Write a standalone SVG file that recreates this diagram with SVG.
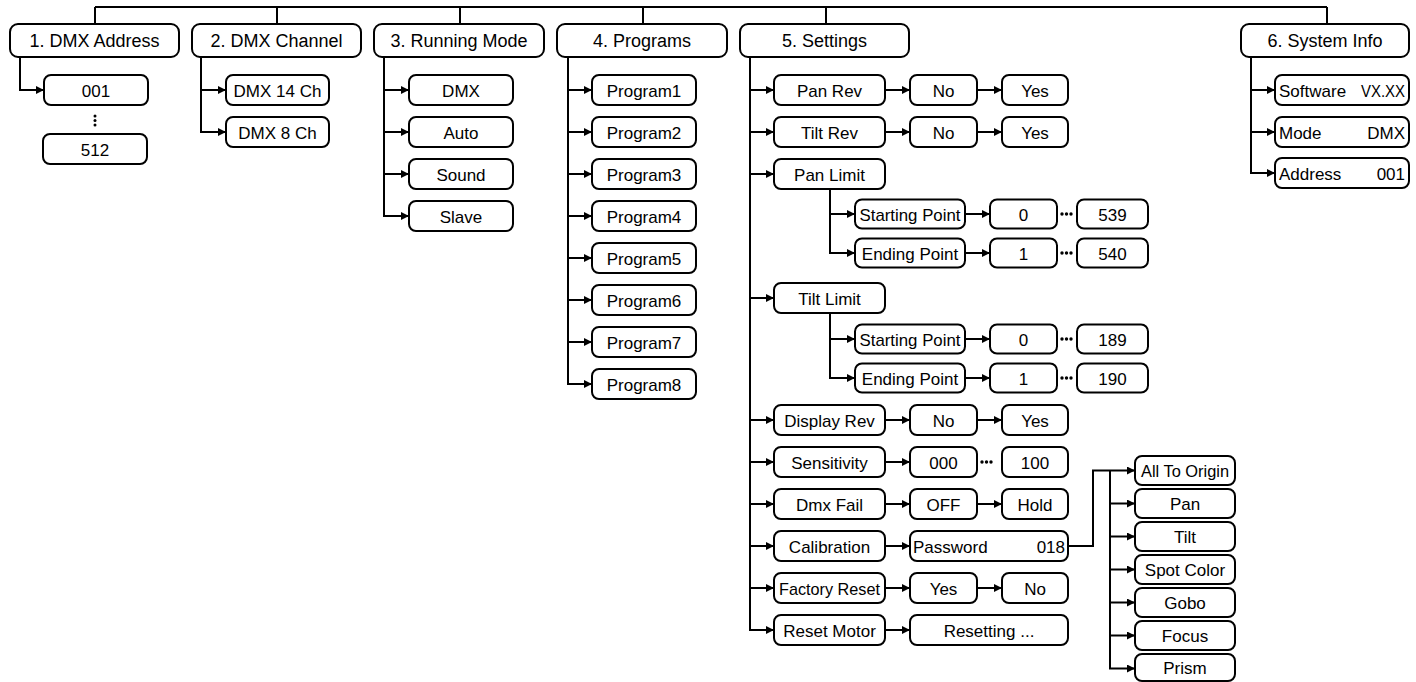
<svg xmlns="http://www.w3.org/2000/svg" width="1416" height="682" viewBox="0 0 1416 682">
<defs>
<style>
.box{fill:#fff;stroke:#000;stroke-width:2}
.ln{fill:none;stroke:#000;stroke-width:2}
.ar{fill:none;stroke:#000;stroke-width:2;marker-end:url(#arr)}
text{font-family:"Liberation Sans",Arial,sans-serif;font-size:17px;fill:#000;text-anchor:middle;dominant-baseline:central}
.top text{font-size:18px}
text.l{text-anchor:start}
text.r{text-anchor:end}
.dot{fill:#000}
</style>
<marker id="arr" viewBox="0 0 8 8" refX="8" refY="4" markerWidth="8" markerHeight="8" markerUnits="userSpaceOnUse" orient="auto">
<path d="M0,0 L8,4 L0,8 z" fill="#000"/>
</marker>
</defs>
<rect width="1416" height="682" fill="#fff"/>

<g id="connectors">
<path class="ln" d="M95,7 H1327 M95,7 V24 M277,7 V24 M460,7 V24 M643,7 V24 M826,7 V24 M1327,7 V24"/>
<path class="ar" d="M20,57 V90 H44"/>
<path class="ar" d="M201,90 H226"/>
<path class="ar" d="M201,57 V132 H226"/>
<path class="ar" d="M384,90 H409"/>
<path class="ar" d="M384,132 H409"/>
<path class="ar" d="M384,174 H409"/>
<path class="ar" d="M384,57 V216 H409"/>
<path class="ar" d="M568,90 H592"/>
<path class="ar" d="M568,132 H592"/>
<path class="ar" d="M568,174 H592"/>
<path class="ar" d="M568,216 H592"/>
<path class="ar" d="M568,258 H592"/>
<path class="ar" d="M568,300 H592"/>
<path class="ar" d="M568,342 H592"/>
<path class="ar" d="M568,57 V384 H592"/>
<path class="ar" d="M750,90 H774"/>
<path class="ar" d="M750,132 H774"/>
<path class="ar" d="M750,174 H774"/>
<path class="ar" d="M750,298 H774"/>
<path class="ar" d="M750,420 H774"/>
<path class="ar" d="M750,462 H774"/>
<path class="ar" d="M750,504 H774"/>
<path class="ar" d="M750,546 H774"/>
<path class="ar" d="M750,588 H774"/>
<path class="ar" d="M750,57 V630 H774"/>
<path class="ar" d="M885,90 H910"/><path class="ar" d="M977,90 H1002"/>
<path class="ar" d="M885,132 H910"/><path class="ar" d="M977,132 H1002"/>
<path class="ar" d="M830,214 H855"/>
<path class="ar" d="M830,189 V253 H855"/>
<path class="ar" d="M965,214 H990"/><path class="ar" d="M965,253 H990"/>
<path class="ar" d="M830,339 H855"/>
<path class="ar" d="M830,313 V378 H855"/>
<path class="ar" d="M965,339 H990"/><path class="ar" d="M965,378 H990"/>
<path class="ar" d="M885,420 H910"/><path class="ar" d="M977,420 H1002"/>
<path class="ar" d="M885,462 H910"/>
<path class="ar" d="M885,504 H910"/><path class="ar" d="M977,504 H1002"/>
<path class="ar" d="M885,546 H910"/>
<path class="ar" d="M885,588 H910"/><path class="ar" d="M977,588 H1002"/>
<path class="ar" d="M885,630 H910"/>
<path class="ar" d="M1068,546 H1093 V470.5 H1135"/>
<path class="ar" d="M1110,503.5 H1135"/>
<path class="ar" d="M1110,536.5 H1135"/>
<path class="ar" d="M1110,569.5 H1135"/>
<path class="ar" d="M1110,602.5 H1135"/>
<path class="ar" d="M1110,635.5 H1135"/>
<path class="ar" d="M1110,470.5 V668.5 H1135"/>
<path class="ar" d="M1251,90 H1275"/>
<path class="ar" d="M1251,132 H1275"/>
<path class="ar" d="M1251,57 V173 H1275"/>
</g>

<g class="top">
<g id="dmx-address"><rect class="box" x="10" y="24" width="169" height="33" rx="8"/><text x="94.5" y="41">1. DMX Address</text></g>
<g id="dmx-channel"><rect class="box" x="192" y="24" width="169" height="33" rx="8"/><text x="276.5" y="41">2. DMX Channel</text></g>
<g id="running-mode"><rect class="box" x="374" y="24" width="170" height="33" rx="8"/><text x="459" y="41">3. Running Mode</text></g>
<g id="programs"><rect class="box" x="557" y="24" width="170" height="33" rx="8"/><text x="642" y="41">4. Programs</text></g>
<g id="settings"><rect class="box" x="740" y="24" width="169" height="33" rx="8"/><text x="824.5" y="41">5. Settings</text></g>
<g id="system-info"><rect class="box" x="1241" y="24" width="168" height="33" rx="8"/><text x="1325" y="41">6. System Info</text></g>
</g>

<g id="addr-001"><rect class="box" x="44" y="75" width="104" height="30" rx="7"/><text x="96" y="91">001</text></g>
<g id="addr-dots"><circle class="dot" cx="95" cy="116" r="1.5"/><circle class="dot" cx="95" cy="120.5" r="1.5"/><circle class="dot" cx="95" cy="125" r="1.5"/></g>
<g id="addr-512"><rect class="box" x="43" y="134" width="104" height="30" rx="7"/><text x="95" y="150">512</text></g>

<g id="ch-14"><rect class="box" x="226" y="75" width="103" height="30" rx="7"/><text x="277.5" y="91">DMX 14 Ch</text></g>
<g id="ch-8"><rect class="box" x="226" y="117" width="103" height="30" rx="7"/><text x="277.5" y="133">DMX 8 Ch</text></g>

<g id="mode-dmx"><rect class="box" x="409" y="75" width="104" height="30" rx="7"/><text x="461" y="91">DMX</text></g>
<g id="mode-auto"><rect class="box" x="409" y="117" width="104" height="30" rx="7"/><text x="461" y="133">Auto</text></g>
<g id="mode-sound"><rect class="box" x="409" y="159" width="104" height="30" rx="7"/><text x="461" y="175">Sound</text></g>
<g id="mode-slave"><rect class="box" x="409" y="201" width="104" height="30" rx="7"/><text x="461" y="217">Slave</text></g>

<g id="program1"><rect class="box" x="592" y="75" width="104" height="30" rx="7"/><text x="644" y="91">Program1</text></g>
<g id="program2"><rect class="box" x="592" y="117" width="104" height="30" rx="7"/><text x="644" y="133">Program2</text></g>
<g id="program3"><rect class="box" x="592" y="159" width="104" height="30" rx="7"/><text x="644" y="175">Program3</text></g>
<g id="program4"><rect class="box" x="592" y="201" width="104" height="30" rx="7"/><text x="644" y="217">Program4</text></g>
<g id="program5"><rect class="box" x="592" y="243" width="104" height="30" rx="7"/><text x="644" y="259">Program5</text></g>
<g id="program6"><rect class="box" x="592" y="285" width="104" height="30" rx="7"/><text x="644" y="301">Program6</text></g>
<g id="program7"><rect class="box" x="592" y="327" width="104" height="30" rx="7"/><text x="644" y="343">Program7</text></g>
<g id="program8"><rect class="box" x="592" y="369" width="104" height="30" rx="7"/><text x="644" y="385">Program8</text></g>

<g id="pan-rev"><rect class="box" x="774" y="75" width="111" height="30" rx="7"/><text x="829.5" y="91">Pan Rev</text></g>
<g id="pan-rev-no"><rect class="box" x="910" y="75" width="67" height="30" rx="7"/><text x="943.5" y="91">No</text></g>
<g id="pan-rev-yes"><rect class="box" x="1002" y="75" width="66" height="30" rx="7"/><text x="1035" y="91">Yes</text></g>

<g id="tilt-rev"><rect class="box" x="774" y="117" width="111" height="30" rx="7"/><text x="829.5" y="133">Tilt Rev</text></g>
<g id="tilt-rev-no"><rect class="box" x="910" y="117" width="67" height="30" rx="7"/><text x="943.5" y="133">No</text></g>
<g id="tilt-rev-yes"><rect class="box" x="1002" y="117" width="66" height="30" rx="7"/><text x="1035" y="133">Yes</text></g>

<g id="pan-limit"><rect class="box" x="774" y="159" width="111" height="30" rx="7"/><text x="829.5" y="175">Pan Limit</text></g>
<g id="pan-start"><rect class="box" x="855" y="199.5" width="110" height="29" rx="7"/><text x="910" y="215" textLength="101" lengthAdjust="spacingAndGlyphs">Starting Point</text></g>
<g id="pan-start-0"><rect class="box" x="990" y="199.5" width="67" height="29" rx="7"/><text x="1023.5" y="215">0</text></g>
<g id="pan-start-dots"><circle class="dot" cx="1062" cy="214" r="1.7"/><circle class="dot" cx="1066.5" cy="214" r="1.7"/><circle class="dot" cx="1071" cy="214" r="1.7"/></g>
<g id="pan-start-539"><rect class="box" x="1077" y="199.5" width="71" height="29" rx="7"/><text x="1112.5" y="215">539</text></g>
<g id="pan-end"><rect class="box" x="855" y="238.5" width="110" height="29" rx="7"/><text x="910" y="254">Ending Point</text></g>
<g id="pan-end-1"><rect class="box" x="990" y="238.5" width="67" height="29" rx="7"/><text x="1023.5" y="254">1</text></g>
<g id="pan-end-dots"><circle class="dot" cx="1062" cy="253" r="1.7"/><circle class="dot" cx="1066.5" cy="253" r="1.7"/><circle class="dot" cx="1071" cy="253" r="1.7"/></g>
<g id="pan-end-540"><rect class="box" x="1077" y="238.5" width="71" height="29" rx="7"/><text x="1112.5" y="254">540</text></g>

<g id="tilt-limit"><rect class="box" x="774" y="283" width="111" height="30" rx="7"/><text x="829.5" y="299">Tilt Limit</text></g>
<g id="tilt-start"><rect class="box" x="855" y="324.5" width="110" height="29" rx="7"/><text x="910" y="340" textLength="101" lengthAdjust="spacingAndGlyphs">Starting Point</text></g>
<g id="tilt-start-0"><rect class="box" x="990" y="324.5" width="67" height="29" rx="7"/><text x="1023.5" y="340">0</text></g>
<g id="tilt-start-dots"><circle class="dot" cx="1062" cy="339" r="1.7"/><circle class="dot" cx="1066.5" cy="339" r="1.7"/><circle class="dot" cx="1071" cy="339" r="1.7"/></g>
<g id="tilt-start-189"><rect class="box" x="1077" y="324.5" width="71" height="29" rx="7"/><text x="1112.5" y="340">189</text></g>
<g id="tilt-end"><rect class="box" x="855" y="363.5" width="110" height="29" rx="7"/><text x="910" y="379">Ending Point</text></g>
<g id="tilt-end-1"><rect class="box" x="990" y="363.5" width="67" height="29" rx="7"/><text x="1023.5" y="379">1</text></g>
<g id="tilt-end-dots"><circle class="dot" cx="1062" cy="378" r="1.7"/><circle class="dot" cx="1066.5" cy="378" r="1.7"/><circle class="dot" cx="1071" cy="378" r="1.7"/></g>
<g id="tilt-end-190"><rect class="box" x="1077" y="363.5" width="71" height="29" rx="7"/><text x="1112.5" y="379">190</text></g>

<g id="display-rev"><rect class="box" x="774" y="405" width="111" height="30" rx="7"/><text x="829.5" y="421">Display Rev</text></g>
<g id="display-rev-no"><rect class="box" x="910" y="405" width="67" height="30" rx="7"/><text x="943.5" y="421">No</text></g>
<g id="display-rev-yes"><rect class="box" x="1002" y="405" width="66" height="30" rx="7"/><text x="1035" y="421">Yes</text></g>

<g id="sensitivity"><rect class="box" x="774" y="447" width="111" height="30" rx="7"/><text x="829.5" y="463">Sensitivity</text></g>
<g id="sens-000"><rect class="box" x="910" y="447" width="67" height="30" rx="7"/><text x="943.5" y="463">000</text></g>
<g id="sens-dots"><circle class="dot" cx="982" cy="462" r="1.7"/><circle class="dot" cx="986.5" cy="462" r="1.7"/><circle class="dot" cx="991" cy="462" r="1.7"/></g>
<g id="sens-100"><rect class="box" x="1002" y="447" width="66" height="30" rx="7"/><text x="1035" y="463">100</text></g>

<g id="dmx-fail"><rect class="box" x="774" y="489" width="111" height="30" rx="7"/><text x="829.5" y="505">Dmx Fail</text></g>
<g id="dmx-fail-off"><rect class="box" x="910" y="489" width="67" height="30" rx="7"/><text x="943.5" y="505">OFF</text></g>
<g id="dmx-fail-hold"><rect class="box" x="1002" y="489" width="66" height="30" rx="7"/><text x="1035" y="505">Hold</text></g>

<g id="calibration"><rect class="box" x="774" y="531" width="111" height="30" rx="7"/><text x="829.5" y="547">Calibration</text></g>
<g id="password"><rect class="box" x="910" y="531" width="158" height="30" rx="7"/><text class="l" x="913" y="547">Password</text><text class="r" x="1065" y="547">018</text></g>

<g id="factory-reset"><rect class="box" x="774" y="573" width="111" height="30" rx="7"/><text x="829.5" y="589" textLength="101" lengthAdjust="spacingAndGlyphs">Factory Reset</text></g>
<g id="factory-yes"><rect class="box" x="910" y="573" width="67" height="30" rx="7"/><text x="943.5" y="589">Yes</text></g>
<g id="factory-no"><rect class="box" x="1002" y="573" width="66" height="30" rx="7"/><text x="1035" y="589">No</text></g>

<g id="reset-motor"><rect class="box" x="774" y="615" width="111" height="30" rx="7"/><text x="829.5" y="631">Reset Motor</text></g>
<g id="resetting"><rect class="box" x="910" y="615" width="158" height="30" rx="7"/><text x="989" y="631">Resetting ...</text></g>

<g id="cal-all"><rect class="box" x="1135" y="456" width="100" height="29" rx="7"/><text x="1185" y="471.5" textLength="88" lengthAdjust="spacingAndGlyphs">All To Origin</text></g>
<g id="cal-pan"><rect class="box" x="1135" y="489" width="100" height="29" rx="7"/><text x="1185" y="504.5">Pan</text></g>
<g id="cal-tilt"><rect class="box" x="1135" y="522" width="100" height="29" rx="7"/><text x="1185" y="537.5">Tilt</text></g>
<g id="cal-spot"><rect class="box" x="1135" y="555" width="100" height="29" rx="7"/><text x="1185" y="570.5">Spot Color</text></g>
<g id="cal-gobo"><rect class="box" x="1135" y="588" width="100" height="29" rx="7"/><text x="1185" y="603.5">Gobo</text></g>
<g id="cal-focus"><rect class="box" x="1135" y="621" width="100" height="29" rx="7"/><text x="1185" y="636.5">Focus</text></g>
<g id="cal-prism"><rect class="box" x="1135" y="654" width="100" height="27" rx="7"/><text x="1185" y="668.5">Prism</text></g>

<g id="sys-software"><rect class="box" x="1275" y="75" width="134" height="30" rx="7"/><text class="l" x="1279" y="91">Software</text><text class="r" x="1405" y="91" textLength="44" lengthAdjust="spacingAndGlyphs">VX.XX</text></g>
<g id="sys-mode"><rect class="box" x="1275" y="117" width="134" height="30" rx="7"/><text class="l" x="1279" y="133">Mode</text><text class="r" x="1405" y="133">DMX</text></g>
<g id="sys-address"><rect class="box" x="1275" y="158" width="134" height="30" rx="7"/><text class="l" x="1279" y="174">Address</text><text class="r" x="1405" y="174">001</text></g>
</svg>
